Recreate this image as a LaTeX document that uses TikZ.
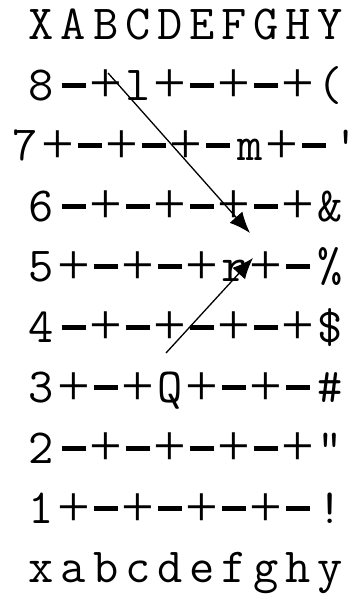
\documentclass[tikz,border=0pt]{standalone}
\usepackage{fontspec}
\newfontfamily\plusfont{Liberation Serif}
\usetikzlibrary{arrows.meta}

% one square of the board is one fixed cell
\newcommand\sqw{32.05pt}
\newcommand\cell[1]{\makebox[\sqw]{#1}}
\newcommand\litesq{\makebox[\sqw]{\rule[12.5pt]{24pt}{5pt}}}
\newcommand\darksq{\makebox[\sqw]{\raisebox{-2.5pt}{\fontsize{58}{58}\plusfont +}}}
\makeatletter
\def\dashtok{-}
\def\plustok{+}
\newcommand\brow[1]{\@tfor\bch:=#1\do{%
  \ifx\bch\dashtok\litesq\else\ifx\bch\plustok\darksq\else\cell{\bch}\fi\fi}}
\makeatother

\begin{document}
\begin{tikzpicture}[x=1pt, y=-1pt,
    rowtext/.style={anchor=base, inner sep=0pt, font=\ttfamily\fontsize{49}{49}\selectfont},
    move/.style={-{Latex[length=21pt, width=17pt]}, line width=1.3pt}]
  \useasboundingbox (0,0) rectangle (350,594);
  %--- Board rows
  \node[rowtext] (files) at (185.75,40)    {\brow{XABCDEFGHY}};
  \node[rowtext] (rank8) at (185.75,100)   {\brow{8-+l+-+-+(}};
  \node[rowtext] (rank7) at (185.75,160.5) {\brow{7+-+-+-m+-'}};
  \node[rowtext] (rank6) at (185.75,221)   {\brow{6-+-+-+-+\&}};
  \node[rowtext] (rank5) at (185.75,281.5) {\brow{5+-+-+r+-\%}};
  \node[rowtext] (rank4) at (185.75,342)   {\brow{4-+-+-+-+\$}};
  \node[rowtext] (rank3) at (185.75,402.5) {\brow{3+-+Q+-+-\#}};
  \node[rowtext] (rank2) at (185.75,463)   {\brow{2-+-+-+-+"}};
  \node[rowtext] (rank1) at (185.75,523.5) {\brow{1+-+-+-+-!}};
  \node[rowtext] (lower) at (185.75,582)   {\brow{xabcdefghy}};
  %--- Move ends
  \coordinate (fromC) at (108,73);
  \coordinate (toF6)  at (250,233);
  \coordinate (fromQ) at (166,353);
  \coordinate (toF5)  at (253,258);
  %--- Moves
  \draw[move] (fromC) -- (toF6);
  \draw[move] (fromQ) -- (toF5);
\end{tikzpicture}
\end{document}
